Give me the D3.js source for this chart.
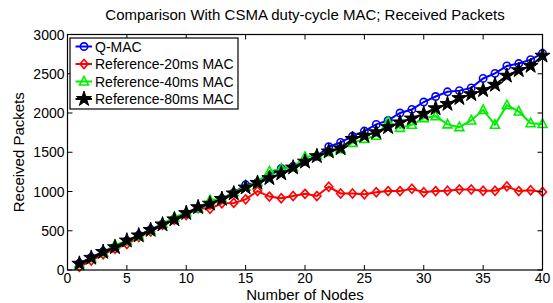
<!DOCTYPE html>
<html>
<head>
<meta charset="utf-8">
<script src="https://cdn.jsdelivr.net/npm/d3@7"></script>
<style>
body { margin: 0; background: #fff; }
svg text { font-family: "Liberation Sans", Arial, sans-serif; fill: #000; }
</style>
</head>
<body>
<div class="chart"></div>
<script>
var width = 553;
var height = 303;

var nodes = d3.range(1, 41);

var qmac = [85,160,235,295,370,445,515,585,650,720,780,845,910,985,1085,1115,1200,1295,1320,1385,
            1450,1570,1625,1705,1770,1855,1905,2000,2045,2140,2210,2270,2285,2320,2440,2505,2600,2630,2680,2760];
var ref20 = [40,120,200,270,330,420,490,575,640,700,790,780,850,855,900,1005,935,915,943,970,
             943,1060,975,975,965,990,1005,1005,1035,990,1005,1010,1025,1025,1010,1010,1065,1005,1015,995];
var ref40 = [75,150,225,320,370,430,505,590,670,735,785,890,910,990,1060,1120,1255,1290,1310,1440,
             1460,1500,1540,1620,1670,1710,1890,1810,1850,1935,1960,1855,1820,1905,2040,1850,2100,2020,1870,1860];
var ref80 = [80,155,230,290,375,440,510,580,645,725,800,845,905,975,1050,1110,1170,1230,1305,1380,
             1450,1510,1550,1670,1710,1755,1820,1880,1930,1990,2060,2115,2190,2240,2290,2360,2475,2545,2600,2730];

var xTicks = [0,5,10,15,20,25,30,35,40];
var yTicks = [0,500,1000,1500,2000,2500,3000];

var series = [
  {name:'Q-MAC', values:qmac, color:'#0000ff', marker:'circle'},
  {name:'Reference-20ms MAC', values:ref20, color:'#ff0000', marker:'diamond'},
  {name:'Reference-40ms MAC', values:ref40, color:'#00ee00', marker:'triangle'},
  {name:'Reference-80ms MAC', values:ref80, color:'#000000', marker:'star'}
];

var pLeft = 67.5, pRight = 542.5, pTop = 34.5, pBottom = 270;

var x = d3.scaleLinear().domain([0,40]).range([pLeft,pRight]);
var y = d3.scaleLinear().domain([0,3000]).range([pBottom,pTop]);

var svg = d3.select(".chart").append("svg")
    .attr("width", width)
    .attr("height", height);

// marker shapes
function markerPath(type){
    if(type=='circle') return d3.symbol().type(d3.symbolCircle).size(42)();
    if(type=='diamond') return "M0,-4.5L4,0L0,4.5L-4,0Z";
    if(type=='triangle') return "M0,-5L4.5,3.5L-4.5,3.5Z";
    return d3.symbol().type(d3.symbolStar).size(70)();
}

var plot = svg.append("g");

series.forEach(function(s){
    var pts = nodes.map(function(n,i){ return [n, s.values[i]]; });
    plot.append("path")
        .datum(pts)
        .attr("fill","none")
        .attr("stroke",s.color)
        .attr("stroke-width",2)
        .attr("d", d3.line().x(d=>x(d[0])).y(d=>y(d[1])));
    plot.selectAll(null)
        .data(pts)
        .enter()
        .append("path")
        .attr("transform", d=>"translate("+x(d[0])+","+y(d[1])+")")
        .attr("d", markerPath(s.marker))
        .attr("fill", s.marker=='star' ? s.color : "none")
        .attr("stroke", s.color)
        .attr("stroke-width", s.marker=='star' ? 1 : 1.6);
});

// frame and inward ticks
svg.append("rect")
    .attr("x",pLeft).attr("y",pTop)
    .attr("width",pRight-pLeft).attr("height",pBottom-pTop)
    .attr("fill","none").attr("stroke","#000").attr("stroke-width",1.2);

var tk = 5;
xTicks.forEach(function(t){
    svg.append("line").attr("x1",x(t)).attr("x2",x(t)).attr("y1",pBottom).attr("y2",pBottom-tk).attr("stroke","#000");
    svg.append("line").attr("x1",x(t)).attr("x2",x(t)).attr("y1",pTop).attr("y2",pTop+tk).attr("stroke","#000");
    svg.append("text").attr("x",x(t)).attr("y",pBottom+13)
        .attr("text-anchor","middle").attr("font-size","14px").text(t);
});
yTicks.forEach(function(t){
    svg.append("line").attr("y1",y(t)).attr("y2",y(t)).attr("x1",pLeft).attr("x2",pLeft+tk).attr("stroke","#000");
    svg.append("line").attr("y1",y(t)).attr("y2",y(t)).attr("x1",pRight).attr("x2",pRight-tk).attr("stroke","#000");
    svg.append("text").attr("x",pLeft-3).attr("y",y(t)+5)
        .attr("text-anchor","end").attr("font-size","14px").text(t);
});

svg.append("text").attr("x",(pLeft+pRight)/2).attr("y",20)
    .attr("text-anchor","middle").attr("font-size","15px")
    .text("Comparison With CSMA duty-cycle MAC; Received Packets");
svg.append("text").attr("x",(pLeft+pRight)/2).attr("y",299.5)
    .attr("text-anchor","middle").attr("font-size","15px")
    .text("Number of Nodes");
svg.append("text").attr("transform","translate(24,"+((pTop+pBottom)/2)+") rotate(-90)")
    .attr("text-anchor","middle").attr("font-size","15px")
    .text("Received Packets");

// legend
var lg = svg.append("g");
lg.append("rect").attr("x",70).attr("y",38).attr("width",168).attr("height",71)
    .attr("fill","#fff").attr("stroke","#000").attr("stroke-width",1.2);
series.forEach(function(s,i){
    var yy = 46.5 + i*17.5;
    lg.append("line").attr("x1",75.5).attr("x2",92).attr("y1",yy).attr("y2",yy)
        .attr("stroke",s.color).attr("stroke-width",2);
    lg.append("path").attr("transform","translate(84,"+yy+")")
        .attr("d",markerPath(s.marker))
        .attr("fill", s.marker=='star' ? s.color : "none")
        .attr("stroke",s.color).attr("stroke-width", s.marker=='star' ? 1 : 1.6);
    lg.append("text").attr("x",95).attr("y",yy+5).attr("font-size","14px").text(s.name);
});
</script>
</body>
</html>
